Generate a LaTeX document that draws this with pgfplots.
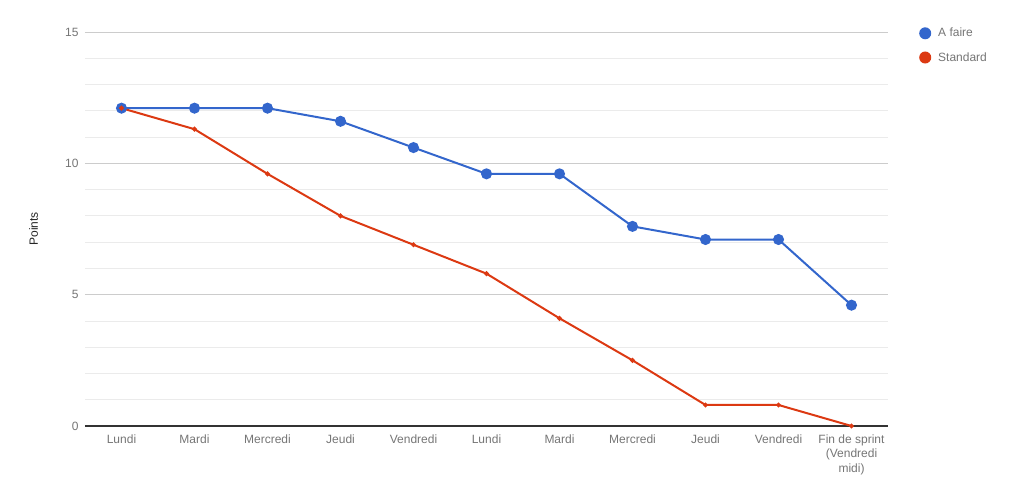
\documentclass[border=0pt]{standalone}
\usepackage{fontspec}
\setmainfont{Liberation Sans}
\usepackage{pgfplots}
\pgfplotsset{compat=1.18}
\definecolor{cblue}{HTML}{3366CC}
\definecolor{cred}{HTML}{DC3912}
\definecolor{tgray}{HTML}{757575}
\definecolor{gmaj}{HTML}{CCCCCC}
\definecolor{gmin}{HTML}{EBEBEB}
\begin{document}
\begin{tikzpicture}
\path[use as bounding box] (0,0) rectangle (1014pt,503pt);
\begin{axis}[
  at={(85pt,77pt)}, anchor=south west,
  scale only axis, width=803pt, height=394pt,
  xmin=-0.5, xmax=10.5, ymin=0, ymax=15,
  xtick={0,...,10},
  xticklabels={Lundi,Mardi,Mercredi,Jeudi,Vendredi,Lundi,Mardi,Mercredi,Jeudi,Vendredi,{Fin de sprint\\(Vendredi\\midi)}},
  xticklabel style={align=center, font=\fontsize{12}{14.5}\selectfont, text=tgray, anchor=north, yshift=-5pt},
  ytick={0,5,10,15},
  minor ytick={1,2,3,4,6,7,8,9,11,12,13,14},
  yticklabel style={font=\fontsize{12}{14}\selectfont, text=tgray, xshift=-3pt},
  /pgf/number format/assume math mode=true,
  major tick length=0pt, minor tick length=0pt,
  ymajorgrids, yminorgrids,
  major grid style={draw=gmaj, line width=0.8pt},
  minor grid style={draw=gmin, line width=0.8pt},
  axis line style={draw=none},
  ylabel={Points},
  ylabel style={at={(axis description cs:-0.064,0.5)}, anchor=center, font=\fontsize{12}{14}\selectfont, text=black!85},
  legend style={draw=none, fill=none, inner sep=0pt, at={(1.0386,1.0152)}, anchor=north west,
    font=\fontsize{12}{14}\selectfont, text=tgray, row sep=10pt, column sep=5pt, cells={anchor=west}},
  legend image code/.code={\fill[draw=none] (6pt,0pt) circle (6pt);},
]
\draw[draw=black!80, line width=1.2pt] (rel axis cs:0,0) -- (rel axis cs:1,0);
\addplot[cblue, line width=2pt, mark=*, mark size=4.5pt, mark options={draw=cblue, fill=cblue}]
 coordinates {(0,12.1) (1,12.1) (2,12.1) (3,11.6) (4,10.6) (5,9.6) (6,9.6) (7,7.6) (8,7.1) (9,7.1) (10,4.6)};
\addlegendentry{A faire}
\addplot[cred, line width=2pt, mark=*, mark size=1.3pt, mark options={draw=cred, fill=cred}]
 coordinates {(0,12.1) (1,11.3) (2,9.6) (3,8.0) (4,6.9) (5,5.8) (6,4.1) (7,2.5) (8,0.8) (9,0.8) (10,0)};
\addlegendentry{Standard}
\end{axis}
\end{tikzpicture}
\end{document}
